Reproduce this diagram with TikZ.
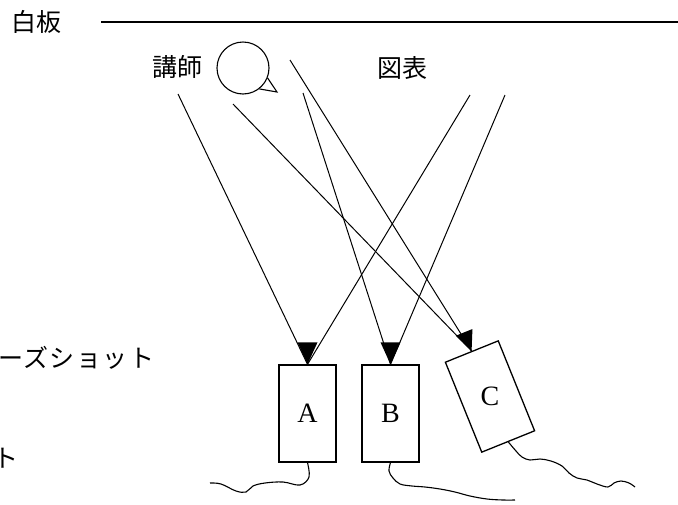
\documentclass[tikz,border=0pt]{standalone}
\usepackage{fontspec}
\setmainfont{Liberation Serif}
\newfontfamily\jpfont{Noto Sans CJK JP}
\newfontfamily\jpwidefont[LetterSpace=6]{Noto Sans CJK JP}
\begin{document}
\begin{tikzpicture}[x=1pt,y=-1pt,
  jptext/.style={font=\jpfont\fontsize{25}{25}\selectfont, inner sep=0pt},
  jpwide/.style={font=\jpwidefont\fontsize{25}{25}\selectfont, inner sep=0pt},
  camfont/.style={font=\fontsize{28}{28}\selectfont},
  cam/.style={draw, line width=1.3pt, minimum width=57pt, minimum height=97pt,
    inner sep=0pt, camfont},
  ray/.style={line width=1pt},
  cable/.style={line width=1.1pt},
  tipmark/.style={fill=black}]
\useasboundingbox (0,0) rectangle (678,504);

% whiteboard
\node[jptext] (board) at (37,22) {白板};
\coordinate (boardL) at (101,22);
\coordinate (boardR) at (678,22);
\draw[line width=1.4pt] (boardL) -- (boardR);

% lecturer with speech bubble, and chart
\node[jptext] (lecturer) at (177,67) {講師};
\node[draw, circle, line width=1.1pt, minimum size=52pt, inner sep=0pt, fill=white] (spk) at (243,68) {};
\coordinate (tail) at (277,92);
\draw[line width=1.1pt] (spk.-22) -- (tail) -- (spk.-52);
\node[jptext] (chart) at (402,68) {図表};

% shot-type labels on the left
\node[jpwide, anchor=west] (close) at (-2,358) {ーズショット};
\node[jptext, anchor=west] (wide) at (-7,458) {ト};

% cameras
\node[cam] (A) at (307.5,413.5) {A};
\node[cam] (B) at (390.5,413.5) {B};
\node[cam, rotate=22] (C) at (490,396.5) {};
\node[camfont, inner sep=0pt] (Clabel) at (C.center) {C};

% direction marks on top of each camera
\fill[tipmark] (A.north) -- ++(-10,-22) -- ++(20,0) -- cycle;
\fill[tipmark] (B.north) -- ++(-10,-22) -- ++(20,0) -- cycle;
\fill[tipmark, shift={(C.north)}, rotate=22] (0,0) -- (-9,-20) -- (9,-20) -- cycle;

% sight lines
\coordinate (s1) at (178,94);
\coordinate (s2) at (233,104);
\coordinate (s3) at (303,93);
\coordinate (s4) at (290,60);
\coordinate (c1) at (470,95);
\coordinate (c2) at (505,95);
\draw[ray] (s1) -- (A.north);
\draw[ray] (s2) -- (C.north);
\draw[ray] (s3) -- (B.north);
\draw[ray] (s4) -- (C.north);
\draw[ray] (c1) -- (A.north);
\draw[ray] (c2) -- (B.north);

% cables
\draw[cable] plot[smooth, tension=0.6] coordinates {(A.south) (309,477) (300,485) (283,482) (265,483) (253,486) (246,492) (236,491) (221,484) (210,483)};
\draw[cable] plot[smooth, tension=0.6] coordinates {(B.south) (389,471) (393,478) (400,484) (412,486) (425,487) (440,489) (455,492) (470,496) (487,499) (503,500) (515,500)};
\draw[cable] plot[smooth, tension=0.6] coordinates {(C.south) (516,451) (522,457) (530,460) (540,459) (551,461) (562,466) (569,473) (577,478) (587,480) (597,484) (608,487) (614,483) (621,481) (629,483) (635,487)};
\end{tikzpicture}
\end{document}
